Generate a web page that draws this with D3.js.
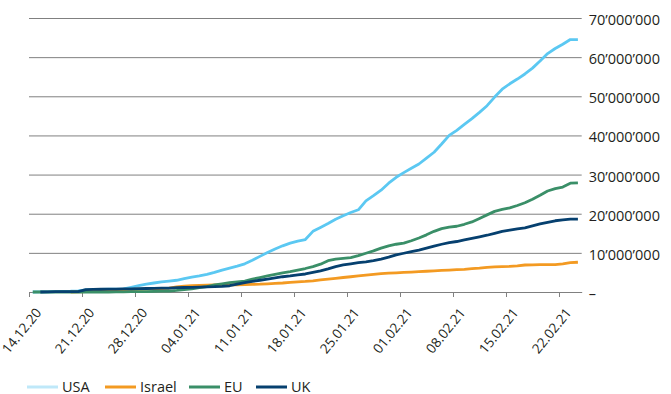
<html>
  <head>
    <title>Vaccinations</title>
    <style>
      body { margin: 0; background: #fff; }
      text { font-family: "Open Sans", sans-serif; fill: #231f20; }
      .grid line { stroke: #808080; stroke-width: 1; }
      .grid .domain { display: none; }
      .x.axis line, .x.axis path { stroke: #808080; }
    </style>
  </head>
  <body>
    <script type="text/javascript" src="https://cdn.jsdelivr.net/npm/d3@7"></script>
    <script type="text/javascript">
    // daily cumulative doses (millions), starting 14.12.20
    var usa = [0.0, 0.02, 0.05, 0.1, 0.15, 0.2, 0.3, 0.55, 0.6, 0.65,
      0.7, 0.75, 0.8, 1.2, 1.6, 2.0, 2.3, 2.6, 2.8, 3.0,
      3.4, 3.8, 4.1, 4.5, 5.0, 5.6, 6.1, 6.6, 7.2, 8.1,
      9.1, 10.1, 11.0, 11.8, 12.5, 13.0, 13.4, 15.5, 16.5, 17.5,
      18.6, 19.5, 20.3, 21.0, 23.3, 24.6, 26.0, 27.8, 29.3, 30.5,
      31.6, 32.7, 34.2, 35.7, 37.8, 40.0, 41.3, 42.8, 44.3, 45.9,
      47.6, 49.8, 51.8, 53.2, 54.4, 55.7, 57.2, 59.0, 60.9, 62.2,
      63.3, 64.5, 64.5];
    var israel = [null, null, null, null, null, 0.0, 0.05, 0.1, 0.2, 0.3,
      0.4, 0.5, 0.6, 0.65, 0.7, 0.75, 0.8, 0.9, 1.0, 1.3,
      1.5, 1.6, 1.7, 1.75, 1.8, 1.8, 1.8, 1.85, 1.9, 1.95,
      2.0, 2.1, 2.2, 2.3, 2.45, 2.6, 2.7, 2.85, 3.1, 3.3,
      3.5, 3.7, 3.9, 4.1, 4.3, 4.5, 4.7, 4.8, 4.9, 5.0,
      5.1, 5.2, 5.3, 5.4, 5.5, 5.6, 5.7, 5.8, 5.95, 6.1,
      6.3, 6.4, 6.5, 6.55, 6.7, 6.9, 6.95, 7.0, 7.0, 7.0,
      7.2, 7.5, 7.6];
    var eu = [0.0, 0.0, 0.0, 0.0, 0.0, 0.0, 0.0, 0.0, 0.0, 0.0,
      0.0, 0.02, 0.05, 0.08, 0.1, 0.12, 0.15, 0.2, 0.25, 0.4,
      0.6, 0.8, 1.1, 1.4, 1.8, 2.1, 2.4, 2.6, 2.8, 3.3,
      3.7, 4.1, 4.5, 4.9, 5.2, 5.6, 6.0, 6.5, 7.1, 8.0,
      8.4, 8.6, 8.8, 9.3, 9.9, 10.5, 11.2, 11.8, 12.2, 12.5,
      13.1, 13.8, 14.6, 15.5, 16.2, 16.6, 16.8, 17.3, 17.9, 18.8,
      19.7, 20.6, 21.1, 21.5, 22.1, 22.8, 23.7, 24.7, 25.8, 26.4,
      26.8, 27.8, 27.9];
    var uk = [null, 0.0, 0.05, 0.08, 0.08, 0.08, 0.1, 0.6, 0.65, 0.7,
      0.72, 0.75, 0.78, 0.8, 0.85, 0.9, 0.95, 1.0, 1.0, 1.1,
      1.15, 1.2, 1.25, 1.3, 1.35, 1.45, 1.6, 2.0, 2.4, 2.7,
      3.0, 3.3, 3.6, 3.9, 4.1, 4.4, 4.6, 5.0, 5.4, 5.9,
      6.5, 6.9, 7.2, 7.5, 7.7, 8.0, 8.4, 8.9, 9.5, 9.9,
      10.3, 10.7, 11.2, 11.7, 12.2, 12.6, 12.9, 13.3, 13.7, 14.1,
      14.5, 15.0, 15.5, 15.8, 16.1, 16.4, 16.9, 17.4, 17.8, 18.2,
      18.4, 18.6, 18.6];

    var seriesNames = ["USA", "Israel", "EU", "UK"];
    var colors = ["#5bc8f2", "#f39a22", "#3a8f68", "#06406f"];
    var legendColors = ["#bfe8f9", "#f39a22", "#3a8f68", "#06406f"];
    var tickLabels = ["14.12.20", "21.12.20", "28.12.20", "04.01.21", "11.01.21",
      "18.01.21", "25.01.21", "01.02.21", "08.02.21", "15.02.21", "22.02.21"];
    var yTicks = [0, 10e6, 20e6, 30e6, 40e6, 50e6, 60e6, 70e6];

    var width = 671, height = 394,
        plotL = 29, plotR = 581.7, plotT = 18, plotB = 292;

    var parse = d3.timeParse("%d.%m.%y");

    var x = d3.scaleTime()
      .domain([new Date(2020, 11, 14), new Date(2021, 1, 25)])
      .range([plotL, plotR]);
    var y = d3.scaleLinear()
      .domain([0, 70e6])
      .range([plotB, plotT]);

    var loc = d3.formatLocale({ decimal: ".", thousands: "\u2019", grouping: [3], currency: ["", ""] });
    var fmt = loc.format(",d");

    var svg = d3.select("body").append("svg")
      .attr("width", width)
      .attr("height", height);

    // grid + right labels
    var yAxis = d3.axisRight(y)
      .tickValues(yTicks)
      .tickSize(-(plotR - plotL))
      .tickPadding(7)
      .tickFormat(function(d) { return d === 0 ? "\u2013" : fmt(d); });
    var gy = svg.append("g")
      .attr("class", "grid")
      .attr("transform", "translate(" + plotR + ",0)")
      .call(yAxis);
    gy.selectAll("text")
      .attr("dy", "0.45em")
      .style("font-size", "14.5px");

    // x axis
    var xAxis = d3.axisBottom(x)
      .tickValues(tickLabels.map(parse))
      .tickSize(5)
      .tickSizeOuter(0)
      .tickFormat(d3.timeFormat("%d.%m.%y"));
    var gx = svg.append("g")
      .attr("class", "x axis")
      .attr("transform", "translate(0," + plotB + ")")
      .call(xAxis);
    gx.selectAll("text")
      .style("font-size", "13.5px")
      .attr("text-anchor", "end")
      .attr("dy", "0.35em")
      .attr("transform", "translate(9,18) rotate(-51)")
      .attr("y", 0).attr("x", 0);

    // lines
    var allSeries = [usa, israel, eu, uk];
    var line = d3.line()
      .defined(function(d) { return d.v !== null; })
      .x(function(d) { return x(d.date); })
      .y(function(d) { return y(d.v * 1e6); });

    allSeries.forEach(function(vals, i) {
      var data = vals.map(function(v, k) {
        return { date: new Date(2020, 11, 14 + k, 12), v: v };
      });
      svg.append("path")
        .datum(data)
        .attr("fill", "none")
        .attr("stroke", colors[i])
        .attr("stroke-width", 2.8)
        .attr("stroke-linejoin", "round")
        .attr("d", line);
    });

    // legend
    var legendX = [27, 105, 189, 256];
    var lg = svg.append("g").attr("class", "legend");
    seriesNames.forEach(function(name, i) {
      lg.append("line")
        .attr("x1", legendX[i]).attr("x2", legendX[i] + 31)
        .attr("y1", 387).attr("y2", 387)
        .attr("stroke", legendColors[i])
        .attr("stroke-width", 3);
      lg.append("text")
        .attr("x", legendX[i] + 35)
        .attr("y", 391.5)
        .style("font-size", "14.5px")
        .text(name);
    });
    </script>
  </body>
</html>
